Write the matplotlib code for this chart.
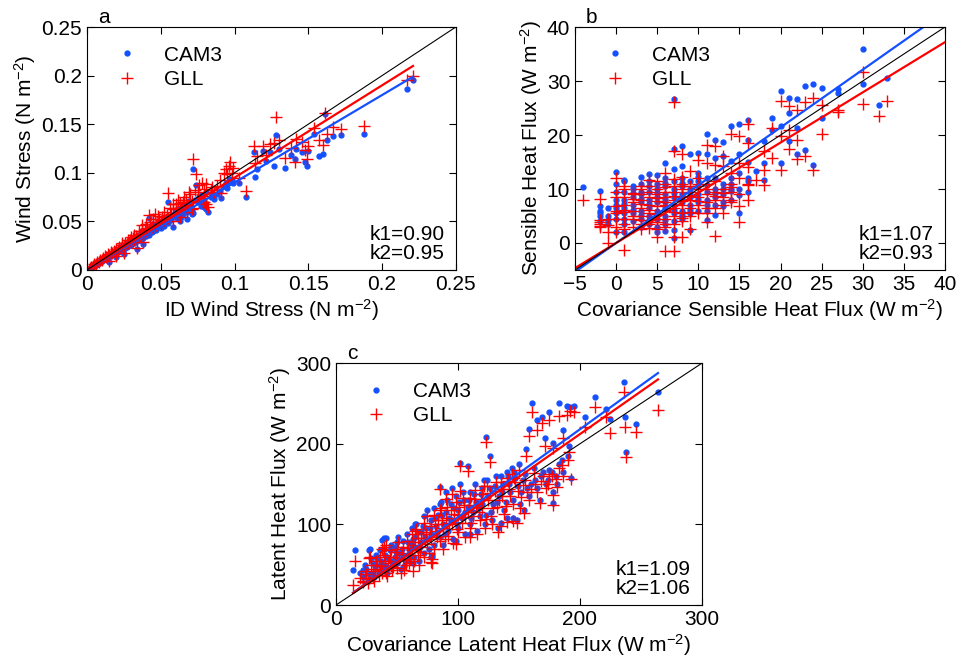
import matplotlib
matplotlib.use("Agg")
import matplotlib.pyplot as plt
import numpy as np

plt.rcParams['font.family'] = ['Liberation Sans', 'DejaVu Sans']
plt.rcParams['font.size'] = 15
plt.rcParams['mathtext.default'] = 'regular'

BLUE = '#1450ff'
RED = '#ff0000'

# (x, CAM3, GLL)
wind_pts = [
    (0.221, 0.195, 0.200), (0.217, 0.186, 0.195), (0.188, 0.140, 0.148),
    (0.172, 0.139, 0.145), (0.167, 0.138, 0.147), (0.161, 0.160, 0.162),
    (0.160, 0.119, 0.129), (0.157, 0.117, 0.134), (0.154, 0.140, 0.146),
    (0.163, 0.134, 0.140), (0.149, 0.107, 0.114), (0.148, 0.111, 0.123),
    (0.150, 0.122, 0.128), (0.146, 0.121, 0.132), (0.142, 0.125, 0.135),
    (0.141, 0.114, 0.111), (0.138, 0.118, 0.126), (0.134, 0.105, 0.115),
    (0.130, 0.125, 0.134), (0.128, 0.139, 0.157), (0.127, 0.107, 0.131),
    (0.124, 0.121, 0.130), (0.121, 0.112, 0.118), (0.119, 0.122, 0.128),
    (0.115, 0.104, 0.117), (0.113, 0.121, 0.128), (0.114, 0.096, 0.110),
    (0.108, 0.075, 0.081), (0.103, 0.089, 0.095), (0.099, 0.090, 0.105),
    (0.097, 0.094, 0.111), (0.095, 0.084, 0.099), (0.093, 0.086, 0.100),
    (0.091, 0.074, 0.079), (0.090, 0.081, 0.093), (0.088, 0.078, 0.086),
    (0.086, 0.073, 0.080), (0.084, 0.075, 0.082), (0.082, 0.060, 0.065),
    (0.080, 0.068, 0.076), (0.079, 0.071, 0.083), (0.077, 0.066, 0.074),
    (0.075, 0.070, 0.080), (0.074, 0.087, 0.099), (0.072, 0.104, 0.114),
    (0.072, 0.059, 0.064), (0.071, 0.063, 0.071), (0.070, 0.066, 0.078),
    (0.068, 0.060, 0.067), (0.067, 0.064, 0.072), (0.065, 0.058, 0.066),
    (0.064, 0.055, 0.062), (0.063, 0.060, 0.069), (0.061, 0.053, 0.058),
    (0.060, 0.056, 0.064), (0.058, 0.044, 0.050), (0.057, 0.051, 0.058),
    (0.055, 0.070, 0.079), (0.055, 0.048, 0.054), (0.054, 0.050, 0.057),
    (0.052, 0.045, 0.051), (0.051, 0.048, 0.055), (0.050, 0.043, 0.048),
    (0.049, 0.046, 0.052), (0.047, 0.041, 0.046), (0.046, 0.045, 0.058),
    (0.045, 0.040, 0.045), (0.044, 0.039, 0.044), (0.042, 0.054, 0.057),
    (0.042, 0.036, 0.041), (0.041, 0.038, 0.043), (0.040, 0.041, 0.047),
    (0.040, 0.035, 0.040), (0.039, 0.036, 0.042), (0.038, 0.027, 0.029),
    (0.038, 0.033, 0.037), (0.037, 0.034, 0.040), (0.036, 0.031, 0.035),
    (0.035, 0.032, 0.037), (0.034, 0.022, 0.023), (0.034, 0.030, 0.033),
    (0.033, 0.031, 0.035), (0.032, 0.028, 0.031), (0.031, 0.029, 0.033),
    (0.030, 0.030, 0.034), (0.030, 0.026, 0.029), (0.029, 0.027, 0.031),
    (0.028, 0.025, 0.028), (0.027, 0.024, 0.027), (0.026, 0.024, 0.028),
    (0.025, 0.016, 0.017), (0.025, 0.022, 0.025), (0.024, 0.023, 0.026),
    (0.023, 0.020, 0.023), (0.022, 0.021, 0.024), (0.021, 0.019, 0.021),
    (0.020, 0.013, 0.014), (0.020, 0.019, 0.022), (0.019, 0.017, 0.019),
    (0.018, 0.017, 0.020), (0.017, 0.015, 0.017), (0.016, 0.015, 0.018),
    (0.015, 0.008, 0.009), (0.015, 0.013, 0.015), (0.014, 0.013, 0.016),
    (0.013, 0.011, 0.013), (0.012, 0.012, 0.014), (0.011, 0.010, 0.012),
    (0.010, 0.009, 0.010), (0.009, 0.009, 0.010), (0.008, 0.007, 0.008),
    (0.007, 0.007, 0.008), (0.006, 0.005, 0.006), (0.005, 0.005, 0.006),
    (0.004, 0.003, 0.004), (0.003, 0.003, 0.003), (0.002, 0.002, 0.002),
    (0.045, 0.047, 0.052), (0.048, 0.050, 0.056), (0.052, 0.053, 0.060),
    (0.056, 0.055, 0.064), (0.060, 0.062, 0.068), (0.062, 0.063, 0.072),
    (0.066, 0.066, 0.075), (0.069, 0.071, 0.080), (0.073, 0.072, 0.082),
    (0.076, 0.076, 0.087), (0.078, 0.077, 0.090), (0.081, 0.080, 0.088),
    (0.085, 0.078, 0.085), (0.065, 0.062, 0.070), (0.058, 0.057, 0.063),
    (0.035, 0.036, 0.040), (0.032, 0.032, 0.036), (0.028, 0.028, 0.031),
    (0.024, 0.025, 0.028), (0.037, 0.040, 0.046), (0.043, 0.042, 0.049),
    (0.063, 0.050, 0.055), (0.068, 0.052, 0.060), (0.071, 0.058, 0.063),
    (0.079, 0.065, 0.070), (0.081, 0.063, 0.068), (0.058, 0.057, 0.068),
    (0.096, 0.092, 0.107), (0.094, 0.090, 0.104), (0.098, 0.093, 0.100),
]

sens_pts = [
    (-4, 10.4, 8.0), (30, 35.9, 31.6), (30, 29.4, 25.8), (33, 30.5, 26.3),
    (32, 25.5, 23.6), (27, 28.6, 24.2), (27, 27.8, 24.7), (25, 28.7, 25.5),
    (25, 23.2, 20.1), (24, 29.5, 26.9), (24, 14.5, 13.6), (23, 29.0, 26.1),
    (23, 17.2, 16.1), (22, 26.7, 24.7), (22, 21.3, 19.1), (22, 16.5, 15.6),
    (21, 26.8, 25.3), (21, 24.1, 21.0), (21, 18.8, 17.4), (20, 28.1, 26.3),
    (20, 14.9, 13.6), (20, 21.6, 19.8), (19, 23.2, 21.3), (19, 20.9, 15.7),
    (18, 18.8, 17.0), (18, 14.8, 13.6), (18, 11.7, 10.8), (17, 13.4, 11.7),
    (16, 22.7, 22.1), (16, 19.1, 18.6), (16, 12.0, 10.8), (16, 9.4, 8.0),
    (15, 22.1, 19.8), (15, 16.4, 14.9), (15, 8.9, 6.8), (15, 5.5, 3.8),
    (14, 21.6, 20.1), (14, 15.1, 13.0), (14, 9.6, 8.0), (13, 18.7, 16.1),
    (13, 16.1, 14.3), (13, 6.8, 5.5), (12, 19.0, 18.0), (12, 15.7, 14.5),
    (12, 5.2, 1.3), (11, 20.1, 18.2), (11, 16.4, 14.8), (11, 4.3, 3.8),
    (10, 16.7, 15.4), (10, 12.3, 10.5), (9, 16.4, 13.3), (9, 2.4, 2.6),
    (8, 17.9, 16.5), (8, 14.2, 12.3), (8, 4.9, 1.2), (7, 17.4, 17.0),
    (7, 26.6, 26.1), (7, 13.7, 11.8), (7, 2.4, 1.2), (7, 1.0, -1.4),
    (6, 14.9, 13.0), (6, 2.3, -1.4), (5, 12.6, 11.4), (5, 2.0, 1.2),
    (4, 12.8, 11.7), (3, 12.3, 10.5), (2, 10.5, 9.2), (1, 11.7, 10.5),
    (1, 2.1, -1.3), (0, 13.1, 12.0), (0, 8.0, 6.8), (-1, 4.3, 0.0),
    (-2, 9.7, 8.1), (-2, 6.8, 3.8), (-2, 5.5, 3.2),
    (-2, 5.0, 3.5), (-2, 6.0, 4.2), (-1, 3.5, 2.0), (-1, 5.0, 3.3),
    (-1, 6.5, 4.5), (0, 4.5, 3.0), (0, 5.5, 4.5), (0, 6.5, 5.5),
    (0, 7.0, 6.0), (0, 11.0, 9.5), (1, 3.5, 2.5), (1, 5.5, 4.5),
    (1, 6.5, 5.8), (1, 8.0, 7.0), (1, 9.5, 8.5), (1, 11.5, 10.0),
    (2, 4.0, 3.0), (2, 5.5, 4.5), (2, 7.0, 6.0), (2, 8.5, 7.5),
    (2, 10.0, 9.0), (3, 3.0, 2.5), (3, 4.5, 3.5), (3, 6.0, 5.0),
    (3, 7.5, 6.5), (3, 9.0, 8.0), (3, 9.5, 9.0), (4, 3.5, 2.8),
    (4, 5.0, 4.3), (4, 6.5, 5.5), (4, 8.0, 7.0), (4, 9.5, 8.5),
    (4, 10.5, 9.5), (5, 3.0, 2.5), (5, 4.5, 3.8), (5, 6.0, 5.3),
    (5, 7.5, 6.8), (5, 8.5, 7.8), (5, 10.0, 9.0), (5, 11.0, 10.0),
    (6, 3.5, 3.0), (6, 5.0, 4.5), (6, 6.5, 6.0), (6, 7.5, 7.0),
    (6, 9.0, 8.5), (6, 10.5, 9.5), (6, 12.0, 11.0), (7, 4.0, 3.5),
    (7, 5.5, 5.0), (7, 7.0, 6.5), (7, 8.5, 8.0), (7, 10.0, 9.5),
    (7, 11.5, 10.5), (8, 4.5, 4.0), (8, 6.0, 5.5), (8, 7.5, 7.0),
    (8, 9.0, 8.5), (8, 10.5, 10.0), (8, 12.0, 11.0), (9, 5.5, 5.0),
    (9, 7.0, 6.5), (9, 8.5, 8.0), (9, 10.0, 9.5), (9, 11.5, 10.5),
    (10, 6.0, 5.5), (10, 7.5, 7.0), (10, 9.0, 8.5), (10, 10.5, 10.0),
    (10, 11.5, 11.0), (11, 6.0, 5.5), (11, 8.0, 7.5), (11, 9.5, 9.0),
    (11, 12.0, 11.0), (12, 7.0, 6.5), (12, 8.5, 8.0), (12, 10.0, 9.5),
    (12, 12.0, 11.5), (13, 7.5, 7.0), (13, 9.0, 8.5), (13, 11.0, 10.0),
    (14, 8.0, 7.5), (14, 10.0, 9.5), (14, 12.0, 11.0), (15, 10.0, 9.0),
    (15, 13.0, 12.0), (16, 11.5, 11.0), (16, 15.0, 14.0),
    (0, 9.5, 8.5), (1, 7.2, 6.2), (2, 6.2, 5.0), (2, 9.2, 8.2),
    (3, 5.2, 4.2), (3, 8.2, 7.2), (4, 4.2, 3.5), (4, 7.2, 6.2),
    (4, 11.5, 10.5), (5, 5.2, 4.5), (5, 9.2, 8.4), (6, 4.2, 3.6),
    (6, 8.2, 7.6), (6, 11.2, 10.3), (7, 6.2, 5.7), (7, 9.2, 8.7),
    (8, 5.2, 4.7), (8, 8.2, 7.7), (8, 11.2, 10.5), (9, 6.2, 5.7),
    (9, 9.2, 8.7), (10, 8.2, 7.7), (10, 13.0, 12.0), (11, 7.0, 6.5),
    (11, 10.7, 10.0), (12, 9.2, 8.7), (13, 10.0, 9.3), (14, 11.0, 10.3),
    (1, 4.5, 3.5), (0, 2.0, 2.0), (-2, 4.0, 3.0), (3, 11.0, 10.0),
]

lat_pts = [
    (236, 277, 264), (264, 264, 242), (237, 233, 221), (246, 225, 215),
    (238, 190, 183), (221, 243, 233), (212, 258, 246), (225, 231, 213),
    (204, 233, 221), (192, 246, 241), (195, 247, 240), (189, 247, 236),
    (183, 251, 235), (175, 240, 230), (169, 233, 226), (161, 250, 239),
    (165, 229, 217), (158, 218, 210), (171, 207, 197), (178, 201, 195),
    (191, 197, 190), (186, 217, 207), (193, 157, 156), (178, 126, 124),
    (156, 194, 185), (123, 209, 202), (126, 185, 178), (108, 173, 166),
    (102, 176, 172), (85, 147, 144), (78, 59, 53), (63, 52, 42),
    (16, 68, 54), (14, 43, 25), (22, 44, 29), (28, 69, 60), (39, 83, 72),
    (41, 83, 75), (38, 81, 70), (36, 68, 60), (27, 68, 58), (79, 59, 52),
    (20, 40, 33), (22, 35, 30), (25, 45, 38), (27, 38, 33), (30, 52, 45),
    (30, 40, 35), (32, 48, 42), (34, 58, 50), (35, 42, 37), (37, 55, 48),
    (38, 45, 40), (40, 62, 55), (40, 50, 44), (42, 40, 36), (44, 68, 60),
    (45, 55, 49), (46, 48, 43), (48, 72, 66), (48, 60, 54), (50, 52, 46),
    (50, 78, 70), (52, 65, 58), (53, 45, 40), (55, 80, 72), (55, 62, 56),
    (57, 55, 50), (58, 88, 80), (60, 70, 64), (60, 58, 52), (62, 95, 88),
    (62, 75, 68), (64, 60, 55), (65, 85, 78), (66, 100, 94), (67, 68, 62),
    (68, 55, 50), (70, 90, 83), (70, 78, 72), (72, 110, 102), (72, 65, 60),
    (74, 95, 88), (75, 82, 76), (76, 70, 65), (78, 105, 98), (78, 88, 82),
    (80, 120, 112), (80, 75, 70), (82, 98, 92), (84, 112, 105), (85, 85, 80),
    (86, 128, 120), (88, 100, 95), (88, 75, 70), (90, 140, 132),
    (90, 115, 108), (92, 92, 86), (94, 125, 118), (95, 105, 100),
    (96, 82, 77), (98, 135, 128), (100, 118, 112), (100, 95, 90),
    (102, 150, 142), (103, 108, 102), (105, 130, 124), (106, 88, 84),
    (108, 122, 116), (110, 140, 133), (110, 100, 95), (112, 115, 110),
    (114, 150, 143), (115, 128, 122), (116, 92, 88), (118, 110, 105),
    (120, 145, 138), (120, 125, 120), (122, 100, 96), (124, 155, 148),
    (125, 135, 130), (127, 115, 110), (128, 105, 100), (130, 148, 142),
    (132, 128, 122), (133, 95, 90), (135, 160, 152), (136, 140, 135),
    (138, 118, 113), (140, 165, 158), (140, 108, 103), (142, 150, 144),
    (144, 170, 162), (145, 130, 125), (147, 158, 152), (148, 106, 102),
    (150, 175, 168), (152, 140, 134), (154, 118, 114), (155, 162, 155),
    (158, 135, 130), (160, 150, 144), (162, 170, 164), (165, 145, 140),
    (168, 160, 154), (172, 150, 145), (175, 168, 162), (178, 140, 136),
    (180, 160, 156), (183, 175, 170), (186, 165, 160),
    (24, 50, 42), (26, 30, 27), (29, 58, 50), (31, 35, 30), (33, 62, 55),
    (36, 50, 44), (39, 70, 62), (41, 45, 40), (43, 58, 52), (45, 75, 68),
    (47, 52, 47), (49, 66, 60), (51, 85, 78), (54, 70, 63), (56, 48, 44),
    (59, 78, 71), (61, 62, 57), (63, 82, 75), (65, 100, 92), (67, 90, 83),
    (69, 72, 66), (71, 98, 91), (73, 85, 79), (75, 118, 110), (77, 95, 88),
    (79, 62, 57), (81, 108, 100), (83, 90, 84), (85, 125, 118),
    (87, 112, 105), (89, 88, 82), (91, 130, 122), (93, 108, 102),
    (95, 145, 138), (97, 120, 113), (99, 100, 94), (101, 128, 122),
    (104, 140, 133), (106, 115, 109), (109, 130, 124), (111, 108, 102),
    (113, 138, 132), (117, 120, 115), (119, 138, 132), (121, 155, 148),
    (123, 112, 107), (126, 145, 139), (129, 125, 120), (131, 160, 153),
    (134, 135, 130), (137, 150, 144), (139, 128, 123), (141, 160, 154),
    (143, 140, 135), (146, 165, 158), (149, 148, 142), (151, 125, 120),
    (153, 155, 149), (157, 145, 140), (163, 155, 150), (167, 130, 126),
    (170, 165, 160), (174, 155, 150), (177, 165, 160), (181, 150, 146),
    (185, 180, 174), (190, 185, 180), (145, 108, 104), (135, 102, 98),
    (98, 80, 76), (110, 88, 84),
]

k_wind = (0.90, 0.95)
k_sens = (1.07, 0.93)
k_lat = (1.09, 1.06)

wind_ticks = [0, 0.05, 0.1, 0.15, 0.2, 0.25]
sens_ticks = [-5, 0, 5, 10, 15, 20, 25, 30, 35, 40]
sens_yticks = [0, 10, 20, 30, 40]
lat_ticks = [0, 100, 200, 300]

fig = plt.figure(figsize=(9.58, 6.59), dpi=100)


def panel(rect, pts, k, lims, xticks, yticks, xlabel, ylabel, letter, fit_full):
    ax = fig.add_axes(rect)
    x, cam, gll = np.array(pts, dtype=float).T
    ax.plot(x, cam, '.', color=BLUE, ms=7, label='CAM3')
    ax.plot(x, gll, '+', color=RED, ms=8, mew=1.0, label='GLL')
    if fit_full:
        xf = np.array(lims[0])
    else:
        xf = np.array([x.min(), x.max()])
    ax.plot(xf, k[0] * xf, color=BLUE, lw=1.6)
    ax.plot(xf, k[1] * xf, color=RED, lw=1.6)
    ax.plot(lims[0], lims[0], color='k', lw=0.8)
    ax.set_xlim(lims[0])
    ax.set_ylim(lims[1])
    ax.set_xticks(xticks)
    ax.set_yticks(yticks)
    ax.set_xticklabels([('%g' % t).replace('-', '\u2212') for t in xticks])
    ax.set_yticklabels([('%g' % t).replace('-', '\u2212') for t in yticks])
    ax.tick_params(direction='in', top=True, right=True, length=5, labelsize=15)
    ax.set_xlabel(xlabel, fontsize=15, labelpad=2)
    ax.set_ylabel(ylabel, fontsize=15, labelpad=2)
    ax.text(0.97, 0.03, 'k1=%.2f\nk2=%.2f' % k, transform=ax.transAxes,
            ha='right', va='bottom', fontsize=15, linespacing=1.0)
    ax.text(0.03, 1.0, letter, transform=ax.transAxes, ha='left', va='bottom',
            fontsize=15)
    ax.legend(loc='upper left', frameon=False, fontsize=15, handletextpad=0.8,
              borderaxespad=0.3, labelspacing=0.25, markerscale=1.0,
              borderpad=0.6)
    return ax


panel([0.0908, 0.5903, 0.385, 0.3687], wind_pts, k_wind,
      ((0, 0.25), (0, 0.25)), wind_ticks, wind_ticks,
      'ID Wind Stress (N m$^{\u22122}$)', 'Wind Stress (N m$^{\u22122}$)', 'a', False)
panel([0.6002, 0.5903, 0.3862, 0.3687], sens_pts, k_sens,
      ((-5, 40), (-5, 40)), sens_ticks, sens_yticks,
      'Covariance Sensible Heat Flux (W m$^{\u22122}$)',
      'Sensible Heat Flux (W m$^{\u22122}$)', 'b', True)
panel([0.3507, 0.0819, 0.382, 0.367], lat_pts, k_lat,
      ((0, 300), (0, 300)), lat_ticks, lat_ticks,
      'Covariance Latent Heat Flux (W m$^{\u22122}$)',
      'Latent Heat Flux (W m$^{\u22122}$)', 'c', False)

fig.savefig('out.png', dpi=100)
